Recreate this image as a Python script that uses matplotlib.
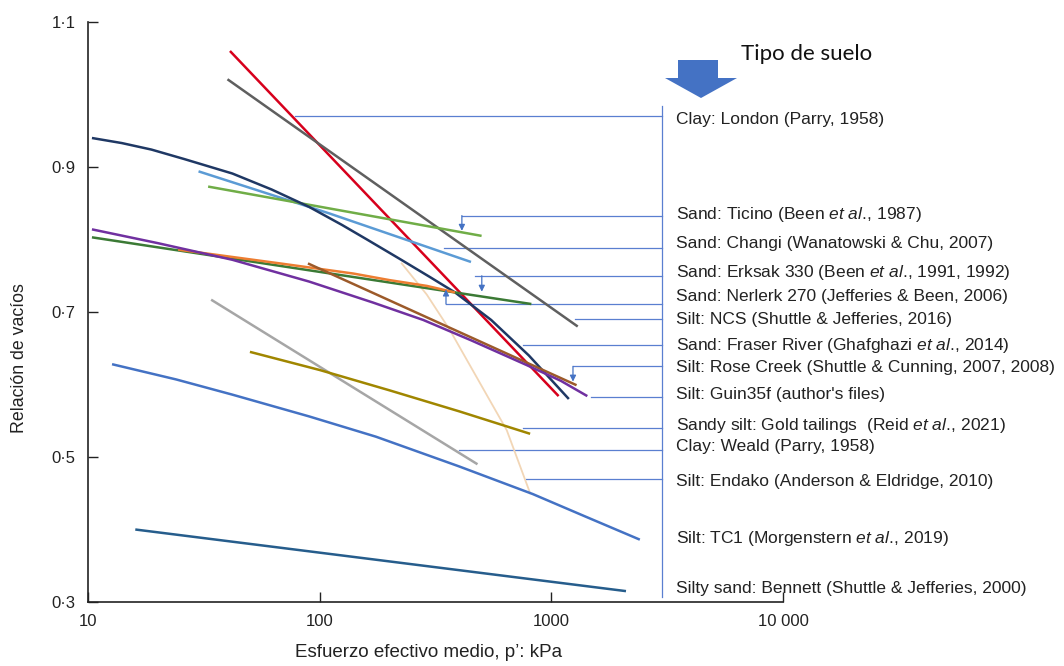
import matplotlib
matplotlib.use("Agg")
import matplotlib.pyplot as plt
from matplotlib.patches import Polygon

plt.rcParams['font.family'] = ['Liberation Sans', 'DejaVu Sans']
plt.rcParams['mathtext.fontset'] = 'custom'
plt.rcParams['mathtext.rm'] = 'Liberation Sans'
plt.rcParams['mathtext.it'] = 'Liberation Sans:italic'

# --- Líneas de estado crítico (p' en kPa, relación de vacíos) ---
london_p = [41, 1075]
london_e = [1.060, 0.584]

ncs_p = [40, 1300]
ncs_e = [1.021, 0.680]

fraser_p = [10.4, 14, 18.8, 26, 42, 62, 90, 125, 160, 225, 300, 384, 550, 800, 1190]
fraser_e = [0.940, 0.933, 0.924, 0.911, 0.891, 0.869, 0.845, 0.820, 0.800,
            0.772, 0.748, 0.727, 0.689, 0.640, 0.580]

changi_p = [30, 110, 450]
changi_e = [0.894, 0.836, 0.769]

ticino_p = [33, 500]
ticino_e = [0.873, 0.805]

nerlerk_p = [10.4, 820]
nerlerk_e = [0.803, 0.711]

erksak_p = [24.5, 67.5, 140, 200, 290, 384]
erksak_e = [0.786, 0.767, 0.753, 0.744, 0.736, 0.727]

rose_p = [89, 1285]
rose_e = [0.767, 0.599]

guin_p = [10.4, 20, 42, 90, 170, 280, 450, 780, 1100, 1430]
guin_e = [0.814, 0.795, 0.772, 0.742, 0.713, 0.689, 0.661, 0.627, 0.605, 0.584]

weald_p = [34, 480]
weald_e = [0.717, 0.490]

gold_p = [50, 100, 200, 400, 810]
gold_e = [0.645, 0.620, 0.592, 0.563, 0.532]

endako_p = [226, 290, 365, 492, 642, 810]
endako_e = [0.767, 0.724, 0.675, 0.602, 0.537, 0.450]

tc1_p = [12.7, 24, 42, 90, 175, 400, 830, 1400, 2410]
tc1_e = [0.628, 0.607, 0.586, 0.556, 0.528, 0.487, 0.449, 0.418, 0.386]

bennett_p = [16, 2100]
bennett_e = [0.400, 0.315]

series = [
    (london_p, london_e, '#d7001c'),
    (ncs_p, ncs_e, '#5f5f5f'),
    (changi_p, changi_e, '#5b9bd5'),
    (ticino_p, ticino_e, '#70ad47'),
    (fraser_p, fraser_e, '#1f3864'),
    (nerlerk_p, nerlerk_e, '#3b7a35'),
    (erksak_p, erksak_e, '#ed7d31'),
    (rose_p, rose_e, '#9c5a2a'),
    (guin_p, guin_e, '#7030a0'),
    (weald_p, weald_e, '#a6a6a6'),
    (gold_p, gold_e, '#a08600'),
    (tc1_p, tc1_e, '#4472c4'),
    (bennett_p, bennett_e, '#265d8c'),
]

# etiquetas de cada suelo
labels = [
    "Clay: London (Parry, 1958)",
    r"Sand: Ticino (Been $\mathit{et\ al.}\!$, 1987)",
    "Sand: Changi (Wanatowski & Chu, 2007)",
    r"Sand: Erksak 330 (Been $\mathit{et\ al.}\!$, 1991, 1992)",
    "Sand: Nerlerk 270 (Jefferies & Been, 2006)",
    "Silt: NCS (Shuttle & Jefferies, 2016)",
    r"Sand: Fraser River (Ghafghazi $\mathit{et\ al.}\!$, 2014)",
    "Silt: Rose Creek (Shuttle & Cunning, 2007, 2008)",
    "Silt: Guin35f (author's files)",
    r"Sandy silt: Gold tailings  (Reid $\mathit{et\ al.}\!$, 2021)",
    "Clay: Weald (Parry, 1958)",
    "Silt: Endako (Anderson & Eldridge, 2010)",
    r"Silt: TC1 (Morgenstern $\mathit{et\ al.}\!$, 2019)",
    "Silty sand: Bennett (Shuttle & Jefferies, 2000)",
]
label_y = [0.966, 0.835, 0.795, 0.754, 0.721, 0.690, 0.654, 0.624,
           0.586, 0.543, 0.514, 0.466, 0.387, 0.318]

# líneas guía: (p inicial, e)
leaders = [(78, 0.970), (411, 0.833), (344, 0.788), (468, 0.750),
           (351, 0.711), (1265, 0.690), (753, 0.654), (1240, 0.625),
           (1483, 0.583), (753, 0.540), (399, 0.510), (776, 0.470)]
# flechitas: (p, e desde, e hasta)
arrows = [(411, 0.833, 0.812), (501, 0.750, 0.728),
          (351, 0.711, 0.731), (1240, 0.625, 0.604)]

fig = plt.figure(figsize=(10.64, 6.66), dpi=100)
ax = fig.add_axes([88 / 1064, 64 / 666, 695 / 1064, 580 / 666])

ax.plot(endako_p, endako_e, color='#f2d6b6', lw=1.3, zorder=2)
for p, e, c in series:
    ax.plot(p, e, color=c, lw=1.8, solid_capstyle='butt', zorder=3)

guide = '#5a7fd0'
for p0, e0 in leaders:
    ax.plot([p0, 3000], [e0, e0], color=guide, lw=0.9, zorder=1)
ax.plot([3000, 3000], [0.984, 0.307], color=guide, lw=0.9, zorder=1)
for p0, e0, e1 in arrows:
    ax.annotate('', xy=(p0, e1), xytext=(p0, e0),
                arrowprops=dict(arrowstyle='-|>', color='#4472c4', lw=0.9,
                                mutation_scale=9, shrinkA=0, shrinkB=0))

for txt, y in zip(labels, label_y):
    ax.text(3450, y, txt, fontsize=12.5, va='center', ha='left',
            color='#222222', clip_on=False)

ax.set_xscale('log')
ax.set_xlim(10, 10000)
ax.set_ylim(0.3, 1.1)
ax.set_xticks([10, 100, 1000, 10000])
ax.set_xticklabels(['10', '100', '1000', '10 000'])
ax.set_yticks([0.3, 0.5, 0.7, 0.9, 1.1])
ax.set_yticklabels(['0·3', '0·5', '0·7', '0·9', '1·1'])
ax.minorticks_off()
ax.tick_params(direction='in', length=7, width=1, labelsize=12, pad=9,
               colors='#222222')
for s in ['top', 'right']:
    ax.spines[s].set_visible(False)
for s in ['left', 'bottom']:
    ax.spines[s].set_linewidth(1.2)
    ax.spines[s].set_color('#222222')

ax.set_xlabel("Esfuerzo efectivo medio, p’: kPa", fontsize=13.5, color='#222222')
ax.set_ylabel("Relación de vacíos", fontsize=12.8, color='#222222')
ax.xaxis.set_label_coords(0.49, -0.072)
ax.yaxis.set_label_coords(-0.086, 0.42)

# flecha grande y título de la columna de suelos
px = lambda x, y: (x / 1064, 1 - y / 666)
arrow_pts = [px(678, 60), px(718, 60), px(718, 78), px(737, 78),
             px(701, 98), px(665, 78), px(678, 78)]
fig.patches.append(Polygon(arrow_pts, closed=True, transform=fig.transFigure,
                           facecolor='#4472c4', edgecolor='none'))
fig.text(741 / 1064, 1 - 54 / 666, "Tipo de suelo", fontsize=16,
         family=['Lato', 'DejaVu Sans'], va='center', ha='left', color='#111111')

fig.savefig('out.png', dpi=100, facecolor='white')
